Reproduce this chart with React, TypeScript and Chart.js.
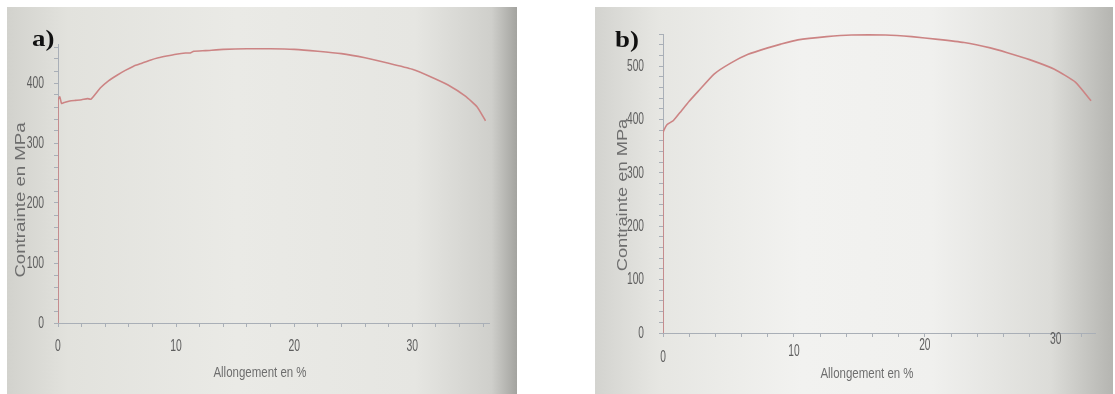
import React, { useEffect, useRef } from 'react';
import { Chart, registerables } from 'chart.js';

Chart.register(...registerables);

// ---- data ----
const strainA = [0, 0, 0.15, 0.3, 0.6, 1.0, 1.5, 2.0, 2.5, 2.8, 3.6, 4.3, 5.0, 5.7, 6.4, 7.1, 7.8, 8.5, 9.2, 10.0, 10.8, 11.2, 11.5, 12.5, 14.0, 16.0, 18.0, 20.0, 22.0, 24.0, 26.0, 28.0, 30.0, 31.5, 33.0, 34.5, 35.5, 36.2];
const stressA = [0, 372, 377, 366, 368, 370, 371, 372, 374, 373, 392, 404, 413, 421, 428, 433, 438, 442, 445, 448, 450, 450, 453, 454, 456, 457, 457, 456, 453, 449, 442, 433, 423, 411, 397, 378, 360, 337];

const strainB = [0, 0, 0.3, 0.8, 1.4, 2.0, 2.7, 3.9, 5.2, 6.5, 8.0, 9.0, 10.3, 12.5, 14.4, 17.0, 19.0, 21.0, 23.0, 25.0, 26.3, 28.0, 29.9, 31.5, 32.7];
const stressB = [0, 375, 390, 398, 416, 434, 453, 485, 506, 522, 534, 541, 549, 555, 558, 558, 555, 550, 544, 534, 525, 512, 494, 470, 435];

const yLabelsA = [0, 100, 200, 300, 400];
const yLabelsB = [0, 100, 200, 300, 400, 500];
const xLabels = [0, 10, 20, 30];
const xTitle = 'Allongement en %';
const yTitle = 'Contrainte en MPa';
const panelNames = ['a)', 'b)'];

const SANS = "'Liberation Sans', Arial, sans-serif";
const TEXT = '#5e5e5e';
const TITLE = '#6e6e6e';
const AXIS = '#a9afb7';
const CURVE = '#cc8484';

type Geo = {
  left: number; top: number; w: number; h: number;
  yAxisW: number; xAxisH: number; padTop: number; padRight: number;
  xMax: number; yMax: number;
  tickSize: number; squeeze: number; yGap: number; xOff: number; xTilt: number;
  bg: string;
  nameX: number; nameY: number;
  yTitleX: number; yTitleY: number; yTitleSize: number; yTitleStretch: number;
  xTitleX: number; xTitleY: number;
};

function Panel(props: { strain: number[]; stress: number[]; yLabels: number[]; name: string; g: Geo }) {
  const { strain, stress, yLabels, name, g } = props;
  const ref = useRef<HTMLCanvasElement | null>(null);

  useEffect(() => {
    if (!ref.current) return;
    const tickText = {
      id: 'tickText',
      afterDraw(chart: any) {
        const ctx = chart.ctx;
        const xs = chart.scales.x;
        const ys = chart.scales.y;
        const area = chart.chartArea;
        ctx.save();
        ctx.fillStyle = TEXT;
        ctx.font = `${g.tickSize}px ${SANS}`;
        ctx.textBaseline = 'middle';
        ctx.textAlign = 'right';
        for (const v of yLabels) {
          const py = ys.getPixelForValue(v);
          ctx.save();
          ctx.translate(area.left - g.yGap, py);
          ctx.scale(g.squeeze, 1);
          ctx.fillText(String(v), 0, 0);
          ctx.restore();
        }
        ctx.textAlign = 'center';
        for (const v of xLabels) {
          const px = xs.getPixelForValue(v);
          const py = area.bottom + g.xOff - g.xTilt * (px - area.left);
          ctx.save();
          ctx.translate(px, py);
          ctx.scale(g.squeeze, 1);
          ctx.fillText(String(v), 0, 0);
          ctx.restore();
        }
        ctx.restore();
      },
    };
    const chart = new Chart(ref.current, {
      type: 'line',
      data: {
        datasets: [
          {
            data: strain.map((x, i) => ({ x, y: stress[i] })),
            borderColor: CURVE,
            borderWidth: 1.6,
            pointRadius: 0,
            tension: 0.15,
            fill: false,
          },
        ],
      },
      options: {
        animation: false,
        responsive: false,
        maintainAspectRatio: false,
        layout: { padding: { left: 0, top: g.padTop, right: g.padRight, bottom: 0 } },
        plugins: { legend: { display: false }, tooltip: { enabled: false }, title: { display: false } },
        scales: {
          x: {
            type: 'linear',
            min: 0,
            max: g.xMax,
            afterFit: (s: any) => { s.height = g.xAxisH; },
            border: { display: true, color: AXIS, width: 1 },
            grid: { drawOnChartArea: false, drawTicks: true, tickLength: 4, color: AXIS },
            ticks: { stepSize: 2, autoSkip: false, includeBounds: false, display: false },
          },
          y: {
            type: 'linear',
            min: 0,
            max: g.yMax,
            afterFit: (s: any) => { s.width = g.yAxisW; },
            border: { display: true, color: AXIS, width: 1 },
            grid: { drawOnChartArea: false, drawTicks: true, tickLength: 4, color: AXIS },
            ticks: { stepSize: 20, autoSkip: false, includeBounds: false, display: false },
          },
        },
      },
      plugins: [tickText],
    });
    return () => chart.destroy();
  }, []);

  return (
    <div style={{ position: 'absolute', left: g.left, top: g.top, width: g.w, height: g.h, background: g.bg, overflow: 'hidden' }}>
      <canvas ref={ref} width={g.w} height={g.h} style={{ position: 'absolute', left: 0, top: 0 }} />
      <div style={{ position: 'absolute', left: g.nameX, top: g.nameY, fontFamily: "'Liberation Serif', 'Times New Roman', serif", fontWeight: 'bold', fontSize: 24, lineHeight: '24px', color: '#111', transform: 'scaleX(1.12)', transformOrigin: 'left top' }}>{name}</div>
      <div style={{ position: 'absolute', left: g.yTitleX - 110, top: g.yTitleY - 12, width: 220, height: 24, lineHeight: '24px', textAlign: 'center', transform: `rotate(-90deg) scaleX(${g.yTitleStretch})`, fontFamily: SANS, fontSize: g.yTitleSize, color: TITLE, whiteSpace: 'nowrap' }}>{yTitle}</div>
      <div style={{ position: 'absolute', left: g.xTitleX - 100, top: g.xTitleY - 10, width: 200, height: 20, lineHeight: '20px', textAlign: 'center', fontFamily: SANS, fontSize: 14, color: TITLE, whiteSpace: 'nowrap', transform: 'scaleX(0.82)' }}>{xTitle}</div>
    </div>
  );
}

const geoA: Geo = {
  left: 7, top: 7, w: 510, h: 387,
  yAxisW: 51, xAxisH: 71, padTop: 37, padRight: 28,
  xMax: 36.5, yMax: 465,
  tickSize: 16.5, squeeze: 0.63, yGap: 14, xOff: 23, xTilt: 0,
  bg: 'linear-gradient(to right, #d2d2cd 0%, #e2e2dd 12%, #eaeae6 45%, #e6e6e2 80%, #cfcfcb 95%, #a3a39f 100%)',
  nameX: 25, nameY: 19,
  yTitleX: 13, yTitleY: 193, yTitleSize: 15, yTitleStretch: 1.24,
  xTitleX: 253, xTitleY: 365,
};

const geoB: Geo = {
  left: 595, top: 7, w: 518, h: 387,
  yAxisW: 68, xAxisH: 61, padTop: 27, padRight: 18,
  xMax: 33, yMax: 560,
  tickSize: 17, squeeze: 0.6, yGap: 19, xOff: 24, xTilt: 0.0457,
  bg: 'linear-gradient(to right, #d3d3cf 0%, #e6e6e2 12%, #f2f2f0 40%, #f0f0ee 65%, #dcdcd8 88%, #b5b5b1 100%)',
  nameX: 20, nameY: 20,
  yTitleX: 27, yTitleY: 188, yTitleSize: 15, yTitleStretch: 1.22,
  xTitleX: 272, xTitleY: 366,
};

export default function App() {
  return (
    <div style={{ position: 'absolute', left: 0, top: 0, width: 1115, height: 394, background: '#ffffff', overflow: 'hidden' }}>
      <Panel strain={strainA} stress={stressA} yLabels={yLabelsA} name={panelNames[0]} g={geoA} />
      <Panel strain={strainB} stress={stressB} yLabels={yLabelsB} name={panelNames[1]} g={geoB} />
    </div>
  );
}
